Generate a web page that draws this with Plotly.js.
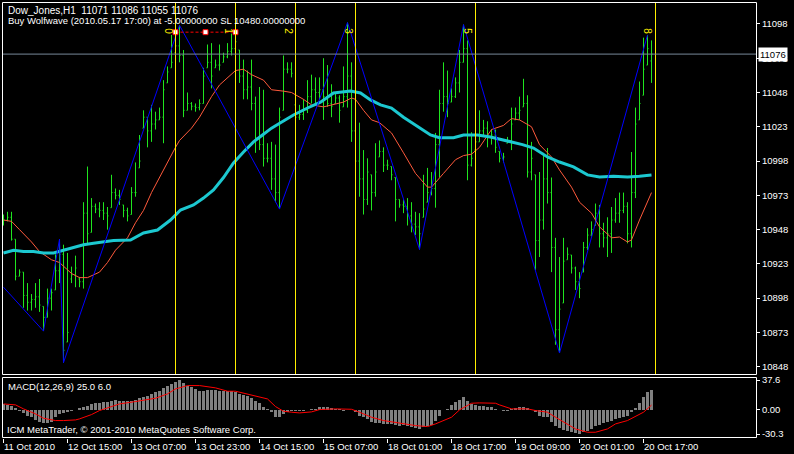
<!DOCTYPE html>
<html><head><meta charset="utf-8">
<script src="https://cdn.plot.ly/plotly-3.0.1.min.js"></script>
<style>html,body{margin:0;padding:0;background:#000;}#chart{width:794px;height:454px;}</style>
</head><body><div id="chart"></div>
<script>
// ---- Data (Dow_Jones H1) ----
const timeTickIdx = [0,16,32,48,64,80,96,112,128,144,160];
const timeTickText = ["11 Oct 2010","12 Oct 15:00","13 Oct 07:00","13 Oct 23:00","14 Oct 15:00","15 Oct 07:00","18 Oct 01:00","18 Oct 17:00","19 Oct 09:00","20 Oct 01:00","20 Oct 17:00"];
const priceTicks = [10848,10873,10898,10923,10948,10973,10998,11023,11048,11073,11098];

const open = [
10958,10955,10957,10941,10914,10917,10900,10895,10897,10899,
10892,10884,10898,10904,10918,10930,10866,10912,10915,10912,
10910,10960,10946,10965,10963,10962,10960,10964,10975,10973,
10966,10962,10959,10975,10993,11022,11030,11020,11025,11028,
11030,11055,11066,11077,11082,11075,11035,11040,11038,11037,
11040,11066,11070,11066,11068,11070,11074,11078,11080,11079,
11060,11050,11052,11040,11015,11010,11000,11000,10985,10975,
11035,11065,11065,11039,11030,11032,11035,11045,11050,11048,
11050,11045,11040,11040,11044,11037.5,11045,11060,11020,10998,
10985,10970,10988,10975,11001,11005,10995,10994,10986,10970,
10966,10965,10958,10952,10950,10957,10968,10975,10978,11010,
11040,11045,11041,11045,11055,11070,11080,10995,11006,11012,
11020,11022,11015,11017,11005,11000,11011,11013,11028,11033,
11037.5,11040,10990,10988,10940,10955,10985,10975,10935,10875,
10894.5,10926,10929.5,10920,10910,10917,10935,10944,10951,10960,
10945,10942,10945,10955,10960,10962,10965,10945,10975,11028,
11046,11068,11071];
const high = [
10959,10961,10961,10941,10919,10917,10909,10901,10909,10912,
10892,10905,10905,10930,10941,10937,10931,10921,10929,10913.5,
10968,10994,10971,10967,10968,10968,10964.5,10988,10978,10977,
10966,10964,10979,10997,11017,11035,11030,11039,11034,11037,
11057,11067,11090,11091,11097,11079,11048,11041,11040,11043,
11066,11083,11084,11072,11083,11077,11084,11091,11092,11079,
11072,11064,11072,11045,11052,11050,11011,11012,11010,11037,
11075,11070,11070,11039,11039,11043,11057,11061,11059,11059,
11073,11068,11054,11048,11046,11067,11099,11070,11024,11026,
11006,11000,10988,11011,11013,11008,10999,10994,10986,10970,
10970,10971,10968,10961,10960,10988,10993,10990,11018.5,11050,
11070,11064,11051,11059,11079,11097.5,11086,11019,11018.5,11035,
11028,11027,11021,11021,11005,11004,11015.6,11037,11037,11045,
11058,11046,11012,10988,10990,11004,11007.5,10986,10942,10928,
10942,10935,10929.5,10921,10917,10939,10949,10954,10967,10966,
10953,10957,10964.5,10971,10975,10975,10968,11004.6,11037,11056,
11088,11090,11086];
const low = [
10951,10954,10940,10911,10914,10891,10889,10889,10891,10888,
10874,10884,10889,10904,10909,10851,10866,10909,10906,10906,
10905,10938,10946,10960,10957,10955,10948,10964,10970,10966,
10957,10954,10959,10972,10993,11022,11008,11012,11021,11028,
11011,11055,11066,11077,11070,11030,11035,11035,11034,11035,
11040,11066,11051,11066,11064,11070,11073,11075,11078,11055,
11043,11043,11035,11004,11006,10994,10997,10977,10968,10963,
11035,11062,11059,11026.5,11028,11028,11033,11040,11040,11043,
11028,11037.5,11030,11040,11026,11037.5,11037,11012,10990,10972,
10959,10966,10962,10972,11001,10990,10991.5,10984,10954,10964,
10960,10951,10946,10944,10933.5,10957,10968,10973,10964,10986,
11034,11030,11041,11044,11048,11070,10984,10994,11006,11012,
11016,11008,11010,11004,10997,10997,11011,11006,11028,11028,
11037.5,10986,10984,10918.6,10928,10948,10967,10917,10864,10858,
10894.5,10926,10916,10904,10898,10917,10933,10943,10951,10935,
10935,10928,10931,10953,10953,10960,10938,10935,10971,11028,
11046,11068,11055];
const close = [
10955,10957,10941,10914,10917,10900,10895,10897,10899,10893,
10884,10898,10902,10918,10930,10860,10873,10915,10920,10910,
10960,10945,10965,10963,10962,10960,10958,10975,10973,10970,
10962,10958,10975,10975,10998,11030,11020,11025,11028,11030,
11050,11063,11070,11082,11075,11035,11040,11038,11037,11040,
11060,11070,11060,11068,11068,11074,11078,11080,11085,11060,
11050,11052,11040,11015,11010,11000,11000,10985,10975,11030,
11065,11065,11062,11030,11032,11035,11045,11050,11048,11050,
11045,11040,11038,11044,11035,11045,11060,11020,10998,10985,
10970,10990,10975,10990,11005,10995,10995,10988,10970,10966,
10965,10958,10952,10950,10945,10963,10975,10978,11010,11040,
11045,11040,11045,11055,11070,11080,10995,11000,11012,11020,
11022,11015,11017,11008,11000,11001,11013,11025,11033,11035,
11040,10990,11000,10940,10955,10985,10975,10935,10875,10890,
10925,10930,10920,10910,10905,10935,10944,10948,10960,10945,
10942,10945,10955,10960,10962,10965,10945,10975,11025,11040,
11065,11080,11076];

// red moving average (bar index, value)
const redIdx = [0,2,4,7,9,12,14,17,19,21,24,26,28,31,33,35,37,40,43,44,47,49,52,54,57,58,60,62,65,67,70,72,75,77,80,82,85,87,88,90,92,94,96,97,100,103,106,107,110,113,115,117,119,122,125,127,129,132,134,137,139,142,144,147,149,152,154,156,157,159,162];
const redVal = [10955,10954,10948,10939,10932,10926,10924,10916,10913,10913,10917,10924,10933,10942,10953,10962,10975,10992,11008,11013,11022,11030,11045,11053.5,11061,11064,11065,11061,11057,11050,11049,11048,11043,11039,11037.5,11039,11041,11044,11043,11035,11028,11026,11021,11018.5,11004,10989,10979,10979,10989,10999,11002,11003,11008,11021,11024,11029,11028,11023,11010,11001,10991.5,10979,10968,10960,10950,10942,10942.6,10939,10940.5,10955,10975];
// cyan moving average
const cyanIdx = [0,2.5,5,7.5,10,12.5,15,17.5,20,22.5,25,27.5,31.75,35,38.5,41.75,44.25,47.5,50,52.5,55,57.5,60,62.5,64.75,67,69.25,72.5,76,79.25,82.5,85,86.75,89.25,91.75,94.25,97,100,103.5,106.75,109,112.5,115,118.5,121.75,125,129.75,132.5,136,139,142.5,146,149,152.5,156,159,162];
const cyanVal = [10931,10933,10932,10932,10931,10931,10933,10935,10937,10938,10939,10940,10940.4,10945.5,10947.7,10955,10962.3,10966,10971,10977,10986,10996.6,11004.6,11012,11017,11022,11026,11031.6,11036.7,11041,11047.7,11048.4,11049,11047.7,11042.6,11039,11036.7,11030,11023,11017,11015,11015,11017,11017,11015.6,11013.4,11010,11007.5,11001,10997.3,10993.7,10987.9,10986.4,10987,10986.4,10987,10987.9];
// zigzag (Wolfwave) pivots
const zzIdx = [0,10,14,15,44,69,86,104,115,139,161];
const zzVal = [10906,10874,10941,10851,11097,10963,11099,10933.5,11097.5,10858,11090];
// wave vertical markers and labels
const waveLineIdx = [43,58,73,88,118,163];
const waveLabel = ["0","1","2","3","5","8"];
const waveLabelIdx = [41.25,56.25,71.25,86.25,116,161];
const waveLabelPrice = 11093;
// red dashed SL segment
const slIdx = [43,50.5,58];
const slVal = [11092,11092,11092];
const lastClose = 11076;

// MACD(12,26,9)
const macdMain = [
7.5,6.7,5.4,2.5,-0.8,-4.2,-7.1,-9.2,-12.6,-15.5,
-16.3,-16.3,-15.5,-9.2,-5.0,-4.2,-2.9,-1.7,0,2.5,
4.2,5.4,7.5,8.4,8.8,9.6,10.5,11.7,12.6,11.7,
10.9,10.9,10.9,12.6,15.1,15.9,18.0,20.1,22.2,24.3,
27.7,30.6,32.7,34.8,37.6,33.5,30.6,28.5,26.4,23.5,
24.3,25.1,25.1,25.1,24.3,23.5,23.5,23.5,22.2,20.1,
19.3,18.0,15.1,11.7,8.4,4.2,1.3,-2.9,-9.2,-9.2,
-5.0,-2.9,-0.8,-0.8,-1.3,-0.8,0.2,0.8,1.7,3.4,
4.2,3.4,2.5,1.7,0.8,-0.8,0.2,-0.2,-2.9,-7.1,
-9.2,-11.3,-15.5,-16.8,-16.8,-17.6,-17.6,-17.6,-18.4,-19.7,
-18.4,-19.7,-21.8,-22.6,-23.9,-21.8,-19.7,-18.4,-13.4,-7.1,
-0.3,1.3,6.7,9.6,12.6,16.8,10.9,7.5,5.9,5.0,
5.0,4.2,4.2,1.3,0.2,-0.8,-0.8,0.8,2.5,3.4,
4.2,2.5,0.2,-2.9,-7.1,-9.2,-9.2,-15.5,-19.7,-22.6,
-25.1,-26.8,-28.1,-29.3,-30.3,-28.1,-26.0,-23.9,-19.7,-18.4,
-16.8,-15.5,-13.4,-11.3,-10.1,-8.4,-7.1,-2.9,2.5,8.4,
15.9,22.2,25.0];
const sigIdx = [0,3,5,8,10,13,15,18,19,22,24,27,29,33,36,38,41,43,46,49,53,56,58,61,63,66,68,70,72,74,77,79,83,87,89,92,95,99,103,106,108,112,114,117,119,123,124,127,131,133,136,138,141,143,146,148,151,153,156,158,160,162];
const sigVal = [7.5,6.3,1.3,-5.0,-10.5,-13.4,-13.4,-12.6,-11.3,-5.9,-0.8,4.2,7.5,10.5,12.6,14.7,20.1,26.4,30.6,30.6,27.7,23.5,23.5,20.1,18,13.8,4.2,-1.7,-2.9,-3.8,-2.5,0.4,1.3,0.8,-2.9,-9.2,-13.4,-16.8,-19.7,-21,-17.6,-9.2,0,8.4,8.8,8.4,6.3,1.3,1.3,-0.8,-2.9,-9.2,-17.6,-23.9,-28.1,-28.1,-23.9,-17.6,-13.4,-8.4,-2.9,6.0];
const macdTicks = [37.6,0,-30.3];
const macdTickText = ["37.6","0.00","-30.3"];

// ---- Layout helpers ----
const W = 794, H = 454;
const px = x => x / W;
const py = y => 1 - y / H;
const idx = close.map((_, i) => i);
const FONT = "Liberation Sans, Arial, sans-serif";
const green = "#1fe61f";
const yellow = "#ffee00";

const traces = [
  {type:"ohlc", x:idx, open:open, high:high, low:low, close:close, xaxis:"x", yaxis:"y",
   increasing:{line:{color:green, width:1}}, decreasing:{line:{color:green, width:1}},
   tickwidth:0.25, hoverinfo:"skip", showlegend:false},
  {type:"scatter", mode:"lines", x:redIdx, y:redVal, line:{color:"#ff5a3c", width:1}, xaxis:"x", yaxis:"y", hoverinfo:"skip"},
  {type:"scatter", mode:"lines", x:cyanIdx, y:cyanVal, line:{color:"#1cc8d0", width:3}, xaxis:"x", yaxis:"y", hoverinfo:"skip"},
  {type:"scatter", mode:"lines", x:zzIdx, y:zzVal, line:{color:"#0000ff", width:1}, xaxis:"x", yaxis:"y", hoverinfo:"skip"},
  {type:"scatter", mode:"lines+markers", x:slIdx, y:slVal, line:{color:"#ff0000", width:1, dash:"3px,2px"},
   marker:{symbol:"square", size:5, color:"#ffffff", line:{color:"#ff0000", width:1}}, xaxis:"x", yaxis:"y", hoverinfo:"skip"},
  {type:"bar", x:idx, y:macdMain, width:0.75, marker:{color:"#808080", line:{width:0}}, xaxis:"x", yaxis:"y2", hoverinfo:"skip"},
  {type:"scatter", mode:"lines", x:sigIdx, y:sigVal, line:{color:"#ff0000", width:1}, xaxis:"x", yaxis:"y2", hoverinfo:"skip"}
];

const shapes = [];
waveLineIdx.forEach(b => shapes.push({type:"line", xref:"x", yref:"paper", x0:b, x1:b, y0:py(374), y1:py(2), line:{color:yellow, width:1}}));
shapes.push({type:"line", xref:"paper", yref:"y", x0:px(2), x1:px(756), y0:lastClose, y1:lastClose, line:{color:"#778899", width:1}});
shapes.push({type:"rect", xref:"paper", yref:"paper", x0:px(2.5), x1:px(756.5), y0:py(374.5), y1:py(2.5), line:{color:"#ffffff", width:1}});
shapes.push({type:"rect", xref:"paper", yref:"paper", x0:px(2.5), x1:px(756.5), y0:py(437.5), y1:py(377.5), line:{color:"#ffffff", width:1}});

const txtFont = {family:FONT, size:9.5, color:"#fff"};
const annotations = [
  {xref:"paper", yref:"paper", x:px(6), y:py(11), xanchor:"left", yanchor:"middle", showarrow:false,
   text:"Dow_Jones,H1\u00a0\u00a011071 11086 11055 11076", font:{family:FONT, size:10, color:"#fff"}},
  {xref:"paper", yref:"paper", x:px(6), y:py(20.5), xanchor:"left", yanchor:"middle", showarrow:false,
   text:"Buy Wolfwave (2010.05.17 17:00) at -5.00000000 SL 10480.00000000", font:txtFont},
  {xref:"paper", yref:"paper", x:px(6), y:py(386), xanchor:"left", yanchor:"middle", showarrow:false,
   text:"MACD(12,26,9) 25.0 6.0", font:txtFont},
  {xref:"paper", yref:"paper", x:px(5), y:py(429), xanchor:"left", yanchor:"middle", showarrow:false,
   text:"ICM MetaTrader, © 2001-2010 MetaQuotes Software Corp.", font:txtFont},
  {xref:"paper", yref:"y", x:px(758), y:lastClose, xanchor:"left", yanchor:"middle", showarrow:false,
   text:String(lastClose), bgcolor:"#ffffff", borderpad:1, font:{family:FONT, size:9.5, color:"#000"}}
];
waveLabel.forEach((t, k) => annotations.push({xref:"x", yref:"y", x:waveLabelIdx[k], y:waveLabelPrice, text:t, textangle:90,
  showarrow:false, xanchor:"center", yanchor:"middle", font:{family:FONT, size:10, color:yellow}}));

const axisFont = {family:FONT, size:9.5, color:"#ffffff"};
const layout = {
  width:W, height:H, margin:{l:0, r:0, t:0, b:0},
  paper_bgcolor:"#000", plot_bgcolor:"#000", showlegend:false, bargap:0,
  xaxis:{domain:[px(2), px(756)], range:[-0.375, 188.125], anchor:"free", position:py(437.5),
    tickmode:"array", tickvals:timeTickIdx, ticktext:timeTickText, ticks:"outside", ticklen:4, tickcolor:"#fff",
    tickfont:axisFont, ticklabelposition:"outside right", showgrid:false, zeroline:false, showline:false,
    rangeslider:{visible:false}, fixedrange:true},
  yaxis:{domain:[py(374), py(2)], range:[10842.7, 11114.0], side:"right", anchor:"x",
    tickmode:"array", tickvals:priceTicks, ticktext:priceTicks.map(String), ticks:"outside", ticklen:3, tickcolor:"#fff", tickfont:axisFont,
    showgrid:false, zeroline:false, showline:false, fixedrange:true},
  yaxis2:{domain:[py(434), py(380)], range:[-30.3, 37.6], side:"right", anchor:"x",
    tickmode:"array", tickvals:macdTicks, ticktext:macdTickText, ticks:"outside", ticklen:3, tickcolor:"#fff", tickfont:axisFont,
    showgrid:false, zeroline:false, showline:false, fixedrange:true},
  shapes:shapes, annotations:annotations
};
Plotly.newPlot("chart", traces, layout, {staticPlot:true, displayModeBar:false});
</script></body></html>
